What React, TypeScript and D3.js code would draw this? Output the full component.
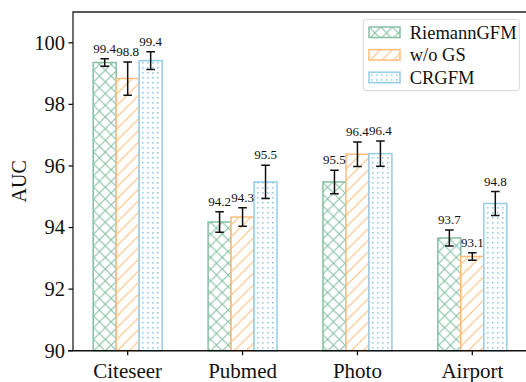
import React from 'react';
import * as d3 from 'd3';

const categories = ['Citeseer', 'Pubmed', 'Photo', 'Airport'];
const seriesNames = ['RiemannGFM', 'w/o GS', 'CRGFM'];
const riemannVals = [99.36, 94.18, 95.48, 93.66];
const riemannErr = [0.12, 0.33, 0.38, 0.26];
const wogsVals = [98.84, 94.34, 96.38, 93.06];
const wogsErr = [0.54, 0.3, 0.4, 0.12];
const crgfmVals = [99.42, 95.48, 96.4, 94.78];
const crgfmErr = [0.29, 0.54, 0.41, 0.39];
const labelRiemann = ['99.4', '94.2', '95.5', '93.7'];
const labelWogs = ['98.8', '94.3', '96.4', '93.1'];
const labelCrgfm = ['99.4', '95.5', '96.4', '94.8'];
const yTicks = [90, 92, 94, 96, 98, 100];

const colors = ['#86bfa2', '#ffbd7a', '#94cde8'];
const font = '"Times New Roman", "Liberation Serif", serif';

const width = 526;
const height = 382;
const margin = { top: 12, right: -1, bottom: 31.3, left: 73 };

export default function App() {
  const values = [riemannVals, wogsVals, crgfmVals];
  const errs = [riemannErr, wogsErr, crgfmErr];
  const labels = [labelRiemann, labelWogs, labelCrgfm];

  const x = d3.scaleLinear()
    .domain([-0.476, 3.476])
    .range([margin.left, width - margin.right]);
  const sub = d3.scaleBand<string>()
    .domain(seriesNames)
    .range([-0.3, 0.3]);
  const y = d3.scaleLinear()
    .domain([90, 101])
    .range([height - margin.bottom, margin.top]);

  const bw = x(sub.bandwidth()) - x(0);
  const base = y(90);
  const P = 11.7;
  const D = 5;

  return (
    <svg width={width} height={height} style={{ position: 'absolute', left: 0, top: 0 }}>
      <defs>
        <pattern id="hx" patternUnits="userSpaceOnUse" width={P} height={P}>
          <path d={`M0,0L${P},${P}M${P},0L0,${P}`} stroke={colors[0]} strokeWidth={1.1} fill="none" />
        </pattern>
        <pattern id="hs" patternUnits="userSpaceOnUse" width={P} height={P}>
          <path d={`M0,${P}L${P},0M${-P / 2},${P / 2}L${P / 2},${-P / 2}M${P / 2},${P * 1.5}L${P * 1.5},${P / 2}`} stroke={colors[1]} strokeWidth={1.1} fill="none" />
        </pattern>
        <pattern id="hd" patternUnits="userSpaceOnUse" width={D} height={D}>
          <rect x={2} y={2} width={1.6} height={1.6} fill={colors[2]} />
        </pattern>
      </defs>

      {/* bars */}
      {seriesNames.map((s, si) => (
        <g key={s}>
          {categories.map((c, ci) => {
            const x0 = x(ci + (sub(s) as number));
            const top = y(values[si][ci]);
            return (
              <g key={c}>
                <rect x={x0} y={top} width={bw} height={base - top} fill="white" />
                <rect x={x0} y={top} width={bw} height={base - top}
                  fill={`url(#${['hx', 'hs', 'hd'][si]})`} stroke={colors[si]} strokeWidth={1.5} />
              </g>
            );
          })}
        </g>
      ))}

      {/* error bars and labels */}
      {seriesNames.map((s, si) => (
        <g key={s + 'e'}>
          {categories.map((c, ci) => {
            const cx = x(ci + (sub(s) as number)) + bw / 2;
            const v = values[si][ci];
            const e = errs[si][ci];
            const y1 = y(v + e);
            const y2 = y(v - e);
            return (
              <g key={c}>
                <path d={`M${cx},${y1}V${y2}M${cx - 4.3},${y1}H${cx + 4.3}M${cx - 4.3},${y2}H${cx + 4.3}`}
                  stroke="#111" strokeWidth={1.5} fill="none" />
                <text x={cx} y={y1 - 6} textAnchor="middle" fontFamily={font} fontSize={13} fill="#111">
                  {labels[si][ci]}
                </text>
              </g>
            );
          })}
        </g>
      ))}

      {/* axes frame */}
      <path d={`M${margin.left},${base}V${margin.top}H${width}`} stroke="#222" strokeWidth={1.3} fill="none" />
      <line x1={margin.left - 5} x2={width} y1={base} y2={base} stroke="#111" strokeWidth={1.5} />

      {/* y axis */}
      {yTicks.map(t => (
        <g key={t}>
          <line x1={margin.left - 4.5} x2={margin.left} y1={y(t)} y2={y(t)} stroke="#111" strokeWidth={1.3} />
          <text x={margin.left - 8} y={y(t) + 6.8} textAnchor="end" fontFamily={font} fontSize={20.5} fill="#111">{t}</text>
        </g>
      ))}
      <text transform={`translate(26,${y(95.5)}) rotate(-90)`} textAnchor="middle" fontFamily={font} fontSize={20} fill="#111">AUC</text>

      {/* x axis */}
      {categories.map((c, ci) => (
        <g key={c}>
          <line x1={x(ci)} x2={x(ci)} y1={base} y2={base + 4.5} stroke="#111" strokeWidth={1.3} />
          <text x={x(ci)} y={base + 27.5} textAnchor="middle" fontFamily={font} fontSize={21} fill="#111">{c}</text>
        </g>
      ))}

      {/* legend */}
      <g>
        <rect x={363.3} y={19.3} width={156} height={71.4} rx={3} fill="white" fillOpacity={0.85} stroke="#d6d6d6" strokeWidth={1} />
        {seriesNames.map((s, si) => (
          <g key={s} transform={`translate(369,${27 + si * 22.6})`}>
            <rect x={0} y={0} width={31} height={10.5} fill="white" />
            <rect x={0} y={0} width={31} height={10.5} fill={`url(#${['hx', 'hs', 'hd'][si]})`} stroke={colors[si]} strokeWidth={1.5} />
            <text x={40.7} y={11.5} fontFamily={font} fontSize={18.5} fill="#111">{s}</text>
          </g>
        ))}
      </g>
    </svg>
  );
}
